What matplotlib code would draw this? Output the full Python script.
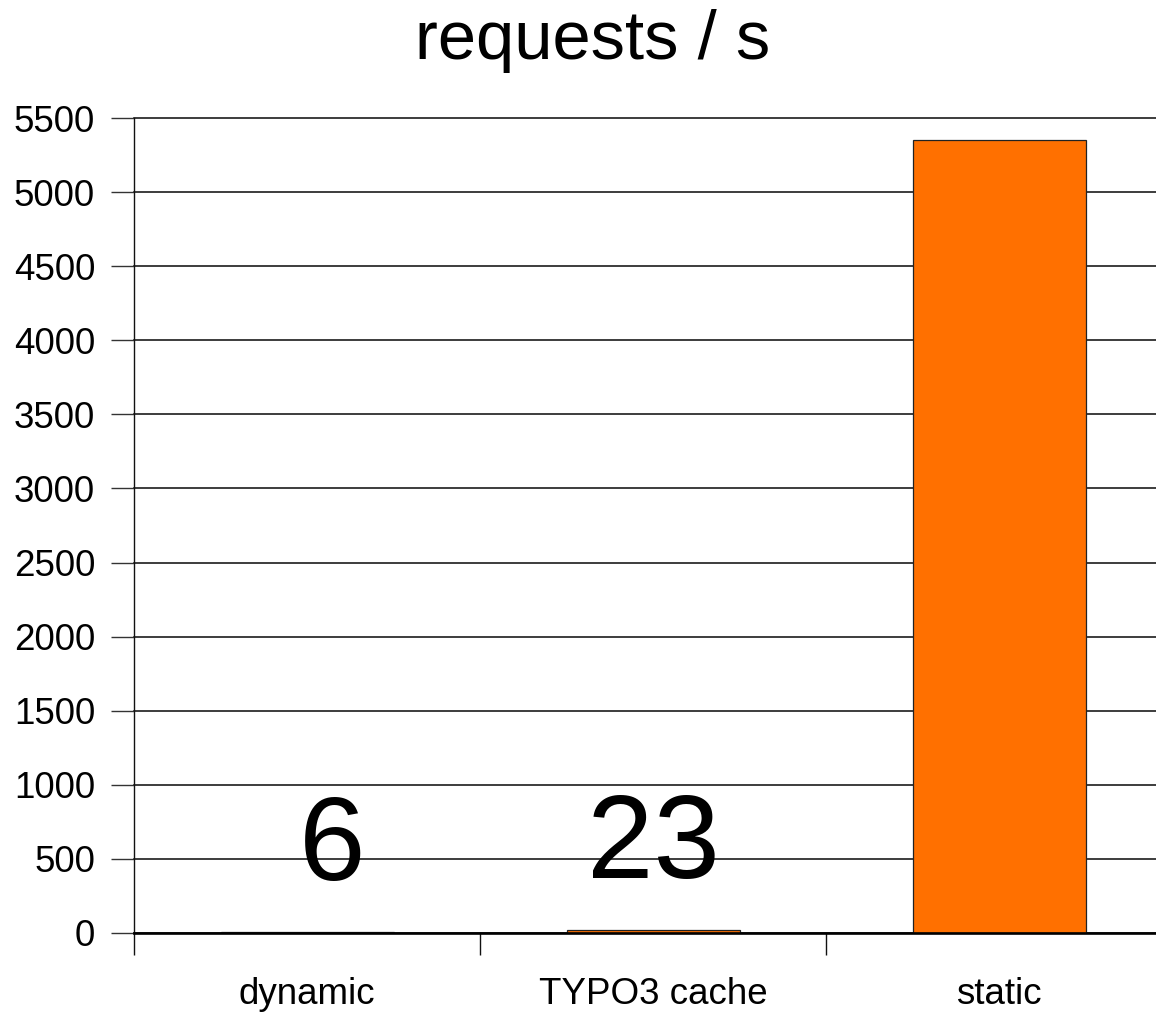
import matplotlib
matplotlib.use("Agg")
import matplotlib.pyplot as plt
import numpy as np

# Throughput per caching mode
categories = ["dynamic", "TYPO3 cache", "static"]
requests_per_s = [6, 23, 5350]
labelled = [True, True, False]
y_ticks = list(range(0, 5501, 500))

plt.rcParams["font.family"] = ["Liberation Sans", "DejaVu Sans"]

DPI = 100
W, H = 1156, 1017
fig = plt.figure(figsize=(W / DPI, H / DPI), dpi=DPI)
ax = fig.add_axes([134 / W, 1 - 933 / H, (1172 - 134) / W, (933 - 118) / H])

x = np.arange(len(categories))
bars = ax.bar(x, requests_per_s, width=0.5, color="#ff7000",
              edgecolor="#222222", linewidth=0.9, zorder=3)

ax.set_xlim(-0.5, len(categories) - 0.5)
ax.set_ylim(0, 5500)
ax.set_yticks(y_ticks)
ax.set_yticklabels([str(v) for v in y_ticks])
ax.yaxis.grid(True, color="#111111", linewidth=1.15, zorder=1)
ax.set_axisbelow(True)
for gl in ax.get_ygridlines():
    gl.set_clip_on(False)

# category separators as major ticks, names as minor ticks
ax.set_xticks(np.arange(-0.5, len(categories), 1.0))
ax.set_xticklabels([])
ax.set_xticks(x, minor=True)
ax.set_xticklabels(categories, minor=True)
ax.tick_params(axis="x", which="major", direction="out", length=16, width=1.0, color="#111111")
ax.tick_params(axis="x", which="minor", length=0, pad=32, labelsize=26.5)
ax.tick_params(axis="y", direction="out", length=16.5, width=1.0, color="#333333",
               pad=11.5, labelsize=26.5)

for s in ("top", "right"):
    ax.spines[s].set_visible(False)
ax.spines["left"].set_linewidth(1.0)
ax.spines["left"].set_color("#111111")
ax.spines["bottom"].set_linewidth(1.9)
ax.spines["bottom"].set_color("#000000")
ax.spines["bottom"].set_zorder(4)

# value labels above the small bars
label_dx = {0: 25}
for i, (b, v, show) in enumerate(zip(bars, requests_per_s, labelled)):
    if not show:
        continue
    ax.annotate(str(v), (b.get_x() + b.get_width() / 2, v),
                xytext=(label_dx.get(i, 0), 52), textcoords="offset pixels",
                ha="center", va="baseline", fontsize=86, zorder=5)

fig.text(593 / W, 1 - 59 / H, "requests / s", ha="center", va="baseline", fontsize=49.5)

fig.savefig("out.png", dpi=DPI)
